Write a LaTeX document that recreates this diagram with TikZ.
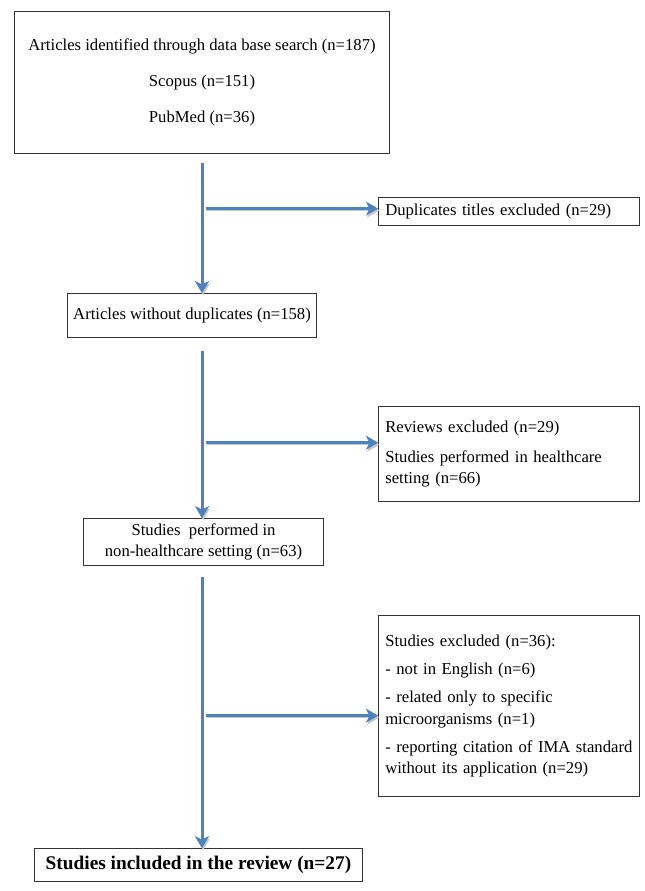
\documentclass[tikz,border=0pt]{standalone}
\usepackage{fontspec}
\setmainfont{Liberation Serif}
\usetikzlibrary{positioning, calc, arrows.meta}
\definecolor{flowblue}{RGB}{79,129,189}
\tikzstyle{mainbox} = [rectangle, draw=black!80, line width=0.8pt, align=center, inner sep=3pt, font=\fontsize{12.5}{16}\selectfont]
\tikzstyle{sidebox} = [rectangle, draw=black!80, line width=0.8pt, align=left, inner xsep=5pt, text width=186pt, anchor=north west, font=\fontsize{12.5}{16}\selectfont]
\tikzstyle{arrow} = [line width=2.2pt, draw=flowblue, -{Stealth[length=9pt, width=10.5pt, inset=2.5pt]}, preaction={draw=black!22, transform canvas={shift={(0.8pt,-1.5pt)}}}]

\begin{document}
\begin{tikzpicture}

\useasboundingbox (0,0) rectangle (483pt,-668.25pt);


% Main column

	\node (articlesID) [mainbox, anchor=north west, minimum width=281.25pt, minimum height=106.5pt] at (10.5pt,-8.25pt) {Articles identified through data base search (n=187)\\[11pt] Scopus (n=151)\\[11pt] PubMed (n=36)};

	\node (noDuplicates) [mainbox, below=104.25pt of articlesID, xshift=-7.5pt, minimum width=186.75pt, minimum height=33pt] {Articles without duplicates (n=158)};

	\node (nonHealthcare) [mainbox, below=135pt of noDuplicates, xshift=8.6pt, minimum width=180pt, minimum height=35.25pt] {Studies\ \ performed in\\ non-healthcare setting (n=63)};

	\node (included) [mainbox, below=211.5pt of nonHealthcare, xshift=-3.75pt, minimum width=246pt, minimum height=24.75pt, font=\fontsize{14.5}{17}\selectfont\bfseries] {Studies included in the review (n=27)};


% Excluded column

	\node (duplicates) [sidebox, below=32.25pt of articlesID.south east, anchor=north west, xshift=-9pt, minimum height=21pt] {Duplicates titles excluded (n=29)};

	\node (reviewsExcl) [sidebox, below=135pt of duplicates.south west, anchor=north west, minimum height=71.25pt] {Reviews excluded (n=29)\\[6.5pt] Studies performed in healthcare\\ setting (n=66)};

	\node (studiesExcl) [sidebox, below=84.75pt of reviewsExcl.south west, anchor=north west, minimum height=135.75pt] {Studies excluded (n=36):\\[5pt] - not in English (n=6)\\[5pt] - related only to specific\\ microorganisms (n=1)\\[5pt] - reporting citation of IMA standard\\ without its application (n=29)};


% Main flow arrows
	\draw [arrow] ($(articlesID.south)+(0,-6.75pt)$) -- (articlesID.south |- noDuplicates.north);
	\draw [arrow] ($(articlesID.south |- noDuplicates.south)+(0,-9.75pt)$) -- (articlesID.south |- nonHealthcare.north);
	\draw [arrow] ($(articlesID.south |- nonHealthcare.south)+(0,-8.25pt)$) -- (articlesID.south |- included.north);


% Exclusion arrows
	\coordinate (fork1) at ($(articlesID.south |- duplicates.west)+(3pt,2.25pt)$);
	\coordinate (fork2) at ($(articlesID.south |- reviewsExcl.west)+(3pt,8.6pt)$);
	\coordinate (fork3) at ($(articlesID.south |- studiesExcl.west)+(3pt,-7.1pt)$);

	\draw [arrow] (fork1) -- (fork1 -| duplicates.west);
	\draw [arrow] (fork2) -- (fork2 -| reviewsExcl.west);
	\draw [arrow] (fork3) -- (fork3 -| studiesExcl.west);

\end{tikzpicture}
\end{document}
